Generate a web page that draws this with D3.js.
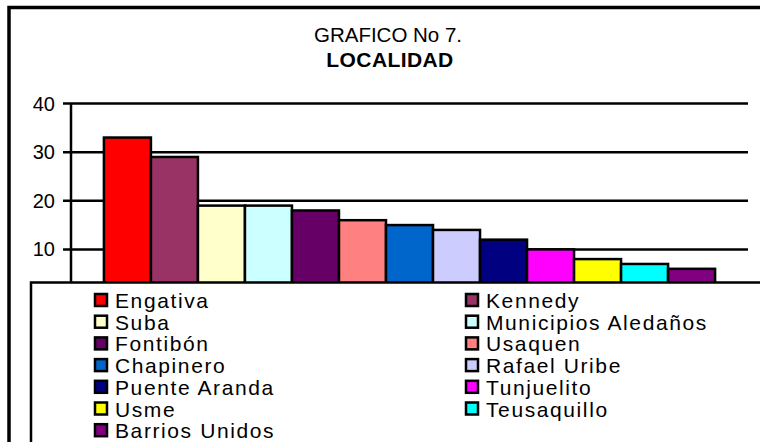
<!DOCTYPE html>
<html>
<head>
<meta charset="utf-8">
<script src="https://cdn.jsdelivr.net/npm/d3@7"></script>
<style>
  html, body { margin: 0; padding: 0; background: #fff; }
  svg text { font-family: Arial, "Liberation Sans", sans-serif; fill: #000; }
</style>
</head>
<body>
<div class="chart"></div>
<script>
const localidades = ['Engativa', 'Kennedy', 'Suba', 'Municipios Aledaños', 'Fontibón', 'Usaquen',
    'Chapinero', 'Rafael Uribe', 'Puente Aranda', 'Tunjuelito', 'Usme', 'Teusaquillo', 'Barrios Unidos'];
const valores = [33, 29, 19, 19, 18, 16, 15, 14, 12, 10, 8, 7, 6];
const colores = ['#ff0000', '#993366', '#ffffcc', '#ccffff', '#660066', '#ff8080',
    '#0066cc', '#ccccff', '#000080', '#ff00ff', '#ffff00', '#00ffff', '#800080'];
const yTicks = [10, 20, 30, 40];

const W = 760, H = 442;

const svg = d3.select('.chart')
    .append('svg')
    .attr('width', W)
    .attr('height', H);

const x = d3.scaleBand()
    .domain(localidades)
    .range([71, 748])
    .paddingInner(0)
    .paddingOuter(0.7);

const y = d3.scaleLinear()
    .domain([0, 40])
    .range([298, 103.5]);

const color = d3.scaleOrdinal().domain(localidades).range(colores);

// gridlines + ticks
svg.selectAll('line.grid')
    .data(yTicks)
    .enter()
    .append('line')
    .attr('class', 'grid')
    .attr('x1', 63)
    .attr('x2', 748)
    .attr('y1', d => y(d))
    .attr('y2', d => y(d))
    .attr('stroke', '#000')
    .attr('stroke-width', 2.5);

svg.selectAll('text.ytick')
    .data(yTicks)
    .enter()
    .append('text')
    .attr('class', 'ytick')
    .attr('x', 55)
    .attr('y', d => y(d) + 7)
    .attr('text-anchor', 'end')
    .attr('font-size', 20)
    .text(d => d);

// bars
svg.selectAll('rect.bar')
    .data(localidades)
    .enter()
    .append('rect')
    .attr('class', 'bar')
    .attr('x', d => x(d))
    .attr('width', x.bandwidth())
    .attr('y', (d, i) => y(valores[i]))
    .attr('height', (d, i) => y(0) - y(valores[i]))
    .attr('fill', d => color(d))
    .attr('stroke', '#000')
    .attr('stroke-width', 2.5);

// y axis line
svg.append('line')
    .attr('x1', 71).attr('x2', 71)
    .attr('y1', y(40)).attr('y2', y(0))
    .attr('stroke', '#000')
    .attr('stroke-width', 2.5);

// title
svg.append('text')
    .attr('x', 388)
    .attr('y', 42)
    .attr('text-anchor', 'middle')
    .attr('font-size', 20.5)
    .text('GRAFICO No 7.');

svg.append('text')
    .attr('x', 390)
    .attr('y', 67)
    .attr('text-anchor', 'middle')
    .attr('font-size', 21)
    .attr('font-weight', 'bold')
    .attr('letter-spacing', 0.4)
    .text('LOCALIDAD');

// legend box
svg.append('rect')
    .attr('x', 31)
    .attr('y', 282.5)
    .attr('width', 760)
    .attr('height', 200)
    .attr('fill', '#fff')
    .attr('stroke', '#000')
    .attr('stroke-width', 2.5);

const legend = svg.selectAll('g.legend-item')
    .data(localidades)
    .enter()
    .append('g')
    .attr('class', 'legend-item')
    .attr('transform', (d, i) => {
        const col = i % 2;
        const row = Math.floor(i / 2);
        return `translate(${col ? 466 : 95}, ${308 + row * 21.7})`;
    });

legend.append('rect')
    .attr('x', 0)
    .attr('y', -14)
    .attr('width', 12)
    .attr('height', 12)
    .attr('fill', d => color(d))
    .attr('stroke', '#000')
    .attr('stroke-width', 2.5);

legend.append('text')
    .attr('x', 20)
    .attr('y', 0)
    .attr('font-size', 21)
    .attr('letter-spacing', 1.6)
    .text(d => d);

// outer border
svg.append('rect')
    .attr('x', 9)
    .attr('y', 7.5)
    .attr('width', 800)
    .attr('height', 500)
    .attr('fill', 'none')
    .attr('stroke', '#000')
    .attr('stroke-width', 3.5);
</script>
</body>
</html>
